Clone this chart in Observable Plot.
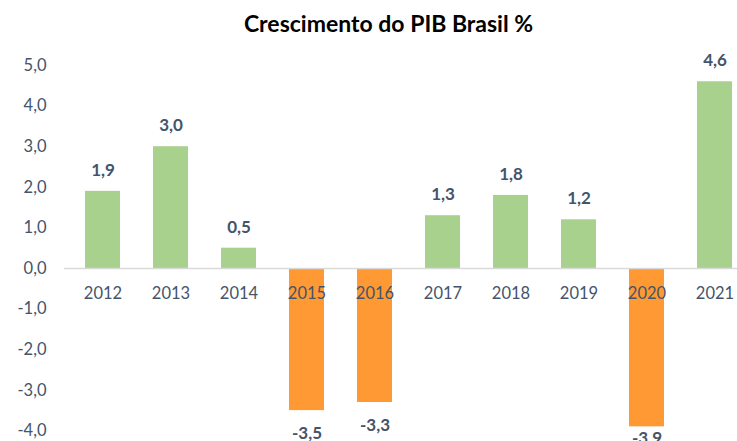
<!DOCTYPE html>
<html>
<head>
<meta charset="utf-8">
<script src="https://cdn.jsdelivr.net/npm/d3@7"></script>
<script src="https://cdn.jsdelivr.net/npm/@observablehq/plot@0.6"></script>
<style>
  html, body { margin: 0; padding: 0; background: #fff; overflow: hidden; }
  #title { height: 40px; line-height: 46px; padding-left: 40px; width: 697px; text-align: center;
    font-family: Lato, sans-serif; font-weight: bold; font-size: 23px; color: #000; }
  #chart svg { max-width: none !important; }
</style>
</head>
<body>
<div id="title">Crescimento do PIB Brasil %</div>
<div id="chart"></div>
<script>
const years = ["2012","2013","2014","2015","2016","2017","2018","2019","2020","2021"];
const values = [1.9, 3.0, 0.5, -3.5, -3.3, 1.3, 1.8, 1.2, -3.9, 4.6];
const yTicks = [-4, -3, -2, -1, 0, 1, 2, 3, 4, 5];
// labels of bars reaching past this value are pulled up to stay inside the plot area
const labelClamp = -3.7;

const data = years.map((y, i) => ({year: y, value: values[i]}));
const fmt = v => v.toFixed(1).replace(".", ",");
const slate = "#44546A";
const labelStyle = {x: "year", y: "value", text: d => fmt(d.value), fill: slate, fontWeight: "bold", fontSize: 17};

const chart = Plot.plot({
  width: 760,
  height: 451,
  marginLeft: 64,
  marginRight: 8,
  marginTop: 25,
  marginBottom: 20,
  style: {fontFamily: "Lato, sans-serif", fontSize: "16.5px", color: slate, background: "#fff", maxWidth: "none"},
  x: {domain: years, paddingInner: 0.49, paddingOuter: 0.245, axis: null},
  y: {domain: [-5, 5], ticks: yTicks, tickFormat: fmt, tickSize: 0, tickPadding: 18, label: null},
  marks: [
    Plot.barY(data, {x: "year", y: "value", fill: d => d.value >= 0 ? "#A9D18E" : "#FF9933"}),
    Plot.ruleY([0], {stroke: "#D9D9D9", strokeWidth: 1.5}),
    Plot.text(data, {x: "year", y: () => 0, text: "year", dy: 25, fill: slate, fontSize: 16.5}),
    Plot.text(data, {...labelStyle, filter: d => d.value >= 0, dy: -21}),
    Plot.text(data, {...labelStyle, filter: d => d.value < 0 && d.value >= labelClamp, dy: 23}),
    Plot.text(data, {...labelStyle, filter: d => d.value < labelClamp, dy: 12})
  ]
});
document.getElementById("chart").appendChild(chart);
</script>
</body>
</html>
